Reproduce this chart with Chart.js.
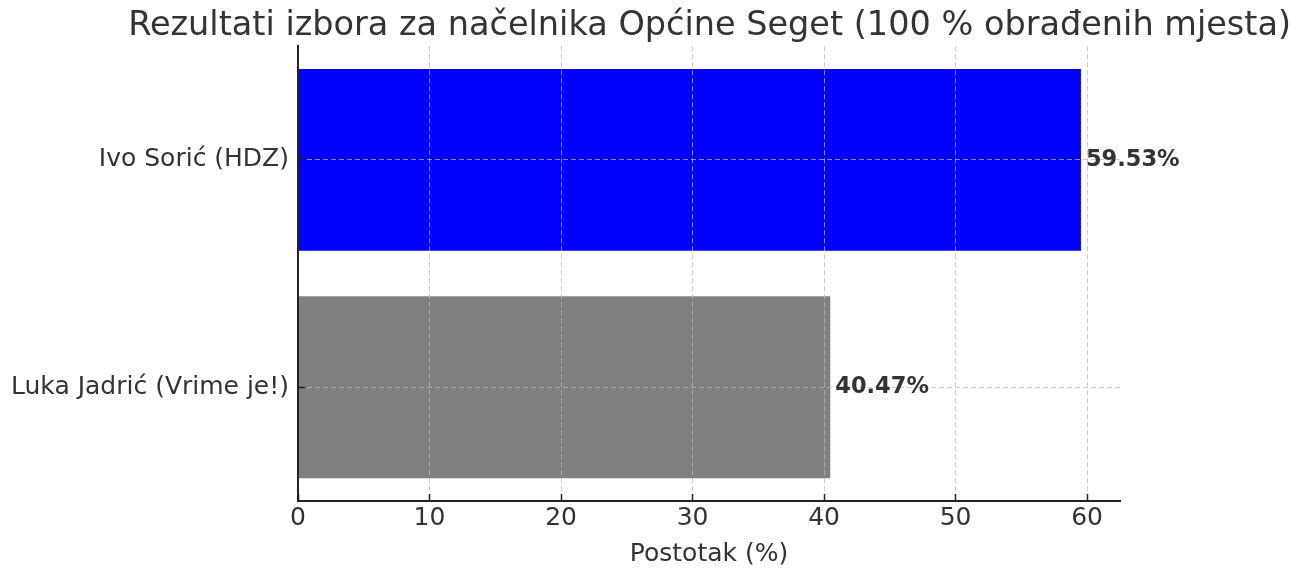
<!DOCTYPE html>
<html>
<head>
<meta charset="utf-8">
<script src="https://cdn.jsdelivr.net/npm/chart.js@4"></script>
<style>
  html, body { margin: 0; padding: 0; background: #fff; }
  #wrap { width: 1300px; height: 576px; }
</style>
</head>
<body>
<div id="wrap"><canvas id="chart" width="1300" height="576"></canvas></div>
<script>
// kandidati i postoci
const candidates = ['Ivo Sorić (HDZ)', 'Luka Jadrić (Vrime je!)'];
const percentages = [59.53, 40.47];
const barColors = ['#0000ff', '#808080'];
const xTicks = [0, 10, 20, 30, 40, 50, 60];

const textColor = '#333333';
const fontFamily = '"DejaVu Sans", sans-serif';
const gridColor = 'rgba(185, 185, 185, 0.75)';

// oznake vrijednosti desno od stupaca (iznad mreže)
const valueLabels = {
  id: 'valueLabels',
  afterDraw(chart) {
    const ctx = chart.ctx;
    const meta = chart.getDatasetMeta(0);
    ctx.save();
    ctx.font = 'bold 22.5px ' + fontFamily;
    ctx.fillStyle = textColor;
    ctx.textAlign = 'left';
    ctx.textBaseline = 'middle';
    meta.data.forEach((bar, i) => {
      ctx.fillText(percentages[i].toFixed(2) + '%', bar.x + 5, bar.y);
    });
    ctx.restore();
  }
};

new Chart(document.getElementById('chart').getContext('2d'), {
  type: 'bar',
  data: {
    labels: candidates,
    datasets: [{
      data: percentages,
      backgroundColor: barColors,
      borderWidth: 0,
      barPercentage: 1,
      categoryPercentage: 0.8,
      xAxisID: 'x',
      yAxisID: 'y'
    }]
  },
  options: {
    indexAxis: 'y',
    responsive: false,
    animation: false,
    devicePixelRatio: 1,
    layout: { padding: { top: 0, right: 9, bottom: 0, left: 0 } },
    plugins: {
      legend: { display: false },
      tooltip: { enabled: false },
      title: {
        display: true,
        align: 'end',
        text: 'Rezultati izbora za načelnika Općine Seget (100 % obrađenih mjesta)',
        color: textColor,
        font: { family: fontFamily, size: 33.5, weight: 'normal', lineHeight: 1.2 },
        padding: { top: 6, bottom: 0 }
      }
    },
    scales: {
      x: {
        type: 'linear',
        min: 0,
        max: 62.5,
        afterBuildTicks: scale => { scale.ticks = xTicks.map(v => ({ value: v })); },
        afterFit: scale => { scale.height = 75; },
        grid: {
          z: 1,
          color: gridColor,
          lineWidth: 1,
          drawTicks: true,
          tickLength: -7,
          tickColor: '#222222',
          tickBorderDash: [],
          tickWidth: 1.5
        },
        border: { display: true, color: '#222222', width: 2, z: 2, dash: [5, 3] },
        ticks: {
          color: textColor,
          padding: 12,
          font: { family: fontFamily, size: 25, lineHeight: 1 }
        },
        title: {
          display: true,
          text: 'Postotak (%)',
          color: textColor,
          font: { family: fontFamily, size: 25, lineHeight: 1.2 },
          padding: { top: 0, bottom: 7 }
        }
      },
      y: {
        afterFit: scale => { scale.width = 298; },
        grid: {
          z: 1,
          offset: false,
          color: gridColor,
          lineWidth: 1,
          drawTicks: true,
          tickLength: -7,
          tickColor: '#222222',
          tickBorderDash: [],
          tickWidth: 1.5
        },
        border: { display: true, color: '#222222', width: 2, z: 2, dash: [5, 3] },
        ticks: {
          color: textColor,
          padding: 16,
          font: { family: fontFamily, size: 25 }
        }
      },
      // prazna desna os - samo rezervira prostor desno od grafa
      yRight: {
        type: 'linear',
        position: 'right',
        display: true,
        afterFit: scale => { scale.width = 171; },
        grid: { display: false },
        border: { display: false },
        ticks: { display: false }
      }
    }
  },
  plugins: [valueLabels]
});
</script>
</body>
</html>
